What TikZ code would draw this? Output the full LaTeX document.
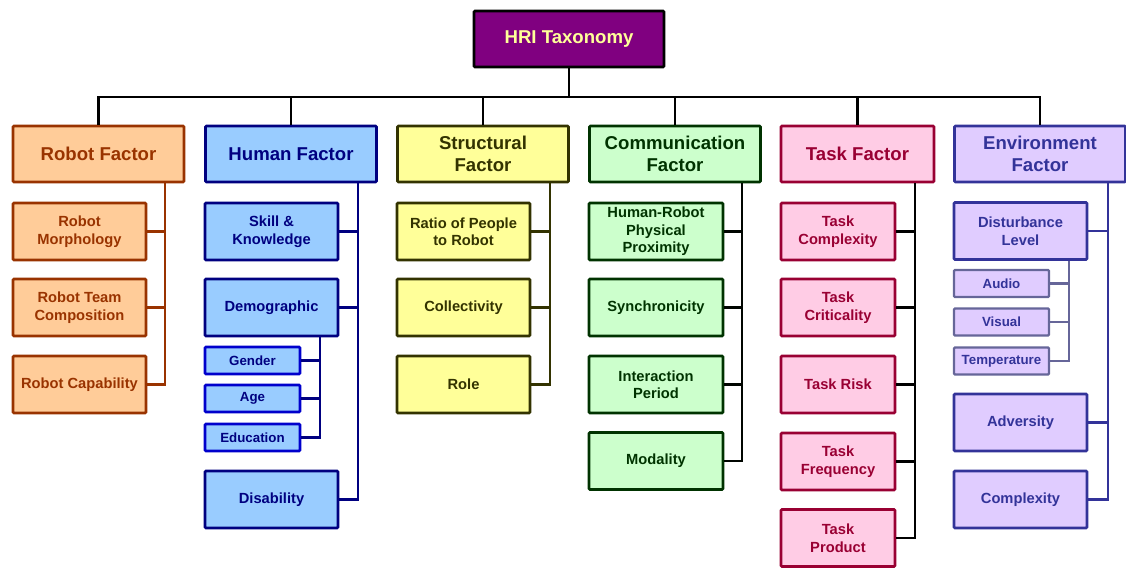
\documentclass[tikz,border=0pt]{standalone}
\usepackage{fontspec}
\setmainfont{Liberation Sans}
\definecolor{rootfill}{HTML}{800080}
\definecolor{roottext}{HTML}{FFFF99}
\definecolor{rbrown}{HTML}{993300}
\definecolor{rfill}{HTML}{FFCC99}
\definecolor{hnavy}{HTML}{000080}
\definecolor{hblue}{HTML}{0000CC}
\definecolor{hfill}{HTML}{99CCFF}
\definecolor{solive}{HTML}{333300}
\definecolor{sfill}{HTML}{FFFF99}
\definecolor{cgreen}{HTML}{003300}
\definecolor{cfill}{HTML}{CCFFCC}
\definecolor{tred}{HTML}{990033}
\definecolor{tfill}{HTML}{FFCCE5}
\definecolor{eblue}{HTML}{333399}
\definecolor{egrey}{HTML}{666699}
\definecolor{efill}{HTML}{E0CCFF}
\begin{document}
\begin{tikzpicture}[x=1pt,y=-1pt,line join=miter,
    box/.style={draw,line width=2.6pt,rounded corners=1pt,inner sep=1pt,align=center},
    head/.style={box,minimum width=171pt,minimum height=56pt,font=\fontsize{18.6}{22}\selectfont\bfseries},
    item/.style={box,minimum width=133pt,minimum height=57pt,font=\fontsize{14.7}{17.5}\selectfont\bfseries},
    tiny/.style={box,minimum width=95pt,minimum height=27pt,font=\fontsize{13.3}{15}\selectfont\bfseries},
    link/.style={line width=2.3pt},
    robotc/.style={fill=rfill,draw=rbrown,text=rbrown},
    humanc/.style={fill=hfill,draw=hnavy,text=hnavy},
    structc/.style={fill=sfill,draw=solive,text=solive},
    commc/.style={fill=cfill,draw=cgreen,text=cgreen},
    taskc/.style={fill=tfill,draw=tred,text=tred},
    envc/.style={fill=efill,draw=eblue,text=eblue}]
    \useasboundingbox (0,0) rectangle (1126,568);
    \node[head,fill=rootfill,text=roottext,minimum width=190pt] (hri) at (569,39) {HRI Taxonomy};
    \node[head,robotc] (robot) at (98.5,154) {Robot Factor};
    \node[head,humanc] (human) at (291,154) {Human Factor};
    \node[head,structc] (structural) at (483,154) {Structural\\Factor};
    \node[head,commc] (communication) at (675,154) {Communication\\Factor};
    \node[head,taskc,minimum width=153pt] (task) at (857.5,154) {Task Factor};
    \node[head,envc] (environment) at (1040,154) {Environment\\Factor};
    \coordinate (bus) at (569,97);
    \draw[link] (hri.south) -- (bus);
    \foreach \n in {robot,human,structural,communication,task,environment} {
        \draw[link] (\n.north) |- (bus);
    }
    \foreach \y/\n/\t in {231.5/rmorph/{Robot\\Morphology},307.5/rteam/{Robot Team\\Composition},384.5/rcap/{Robot Capability}} {
        \node[item,robotc] (\n) at (79.5,\y) {\t};
        \draw[link,rbrown] (\n.east) -| ([xshift=-20pt]robot.south east);
    }
    \foreach \y/\n/\t in {231.5/skill/{Skill \&\\Knowledge},307.5/demo/{Demographic},499.5/disab/{Disability}} {
        \node[item,humanc] (\n) at (271.5,\y) {\t};
        \draw[link,hnavy] (\n.east) -| ([xshift=-20pt]human.south east);
    }
    \foreach \y/\n/\t in {360.5/gender/Gender,398.5/age/Age,437.5/edu/Education} {
        \node[tiny,humanc,draw=hblue] (\n) at (252.5,\y) {\t};
        \draw[link,hnavy] (\n.east) -| ([xshift=-19pt]demo.south east);
    }
    \foreach \y/\n/\t in {231.5/ratio/{Ratio of People\\to Robot},307.5/collect/{Collectivity},384.5/role/{Role}} {
        \node[item,structc] (\n) at (463.5,\y) {\t};
        \draw[link,solive] (\n.east) -| ([xshift=-20pt]structural.south east);
    }
    \foreach \y/\n/\t in {231.5/proxim/{Human-Robot\\Physical\\Proximity},307.5/synch/{Synchronicity},384.5/period/{Interaction\\Period},461/modal/{Modality}} {
        \node[item,commc,minimum width=134pt] (\n) at (656,\y) {\t};
        \draw[link,black!90!cgreen] (\n.east) -| ([xshift=-20pt]communication.south east);
    }
    \foreach \y/\n/\t in {231.5/tcompl/{Task\\Complexity},307.5/tcrit/{Task\\Criticality},384.5/trisk/{Task Risk},461.5/tfreq/{Task\\Frequency},538/tprod/{Task\\Product}} {
        \node[item,taskc,minimum width=114pt] (\n) at (838,\y) {\t};
        \draw[link] (\n.east) -| ([xshift=-20pt]task.south east);
    }
    \foreach \y/\n/\t in {231/disturb/{Disturbance\\Level},422.5/advers/{Adversity},499.5/ecompl/{Complexity}} {
        \node[item,envc] (\n) at (1020.5,\y) {\t};
        \draw[link,eblue] (\n.east) -| ([xshift=-19pt]environment.south east);
    }
    \foreach \y/\n/\t in {283.5/audio/Audio,322/visual/Visual,361/temp/Temperature} {
        \node[tiny,envc,draw=egrey,line width=2.2pt] (\n) at (1001.5,\y) {\t};
        \draw[link,egrey,line width=2.2pt] (\n.east) -| ([xshift=-19pt]disturb.south east);
    }
\end{tikzpicture}
\end{document}
